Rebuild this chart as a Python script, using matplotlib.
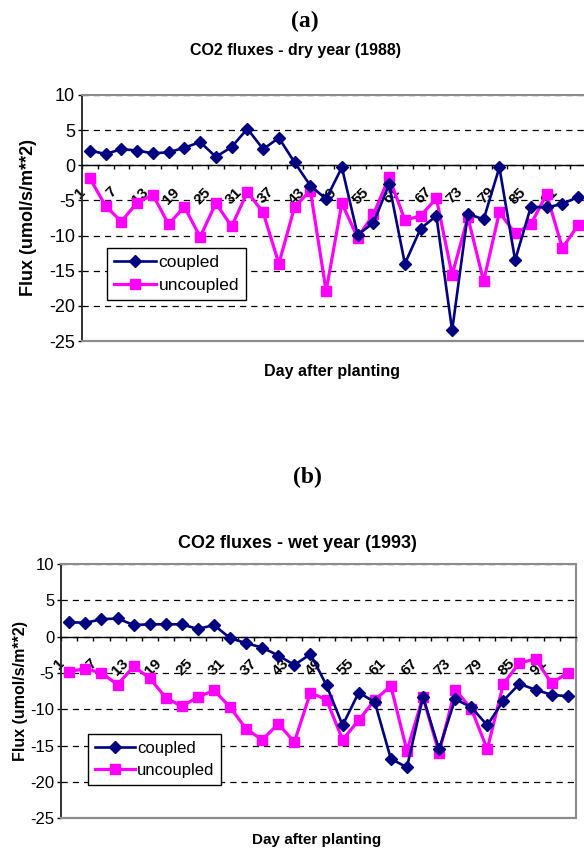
import matplotlib
matplotlib.use('Agg')
import matplotlib.pyplot as plt
from matplotlib.transforms import ScaledTranslation

# ---------------- data ----------------
days = [1, 4, 7, 10, 13, 16, 19, 22, 25, 28, 31, 34, 37, 40, 43, 46,
        49, 52, 55, 58, 61, 64, 67, 70, 73, 76, 79, 82, 85, 88, 91, 94]

dry_coupled = [2.1, 1.6, 2.3, 2.1, 1.7, 1.85, 2.5, 3.3, 1.2, 2.6, 5.2, 2.3,
               3.9, 0.4, -2.9, -4.8, -0.3, -9.9, -8.2, -2.7, -14.0, -9.0,
               -7.2, -23.5, -6.9, -7.7, -0.3, -13.5, -5.9, -6.0, -5.5, -4.5]
dry_uncoupled = [-1.85, -5.8, -8.0, -5.3, -4.2, -8.4, -5.9, -10.2, -5.4, -8.7,
                 -3.8, -6.7, -14.0, -5.9, -3.6, -17.9, -5.4, -10.3, -7.0, -1.7,
                 -7.8, -7.2, -4.7, -15.6, -7.4, -16.5, -6.7, -9.7, -8.4, -4.1,
                 -11.8, -8.5]
wet_coupled = [2.0, 1.9, 2.4, 2.5, 1.6, 1.7, 1.7, 1.7, 1.05, 1.6, -0.2, -0.9,
               -1.5, -2.6, -3.9, -2.4, -6.7, -12.2, -7.7, -9.0, -16.8, -18.0,
               -8.3, -15.5, -8.6, -9.7, -12.2, -8.8, -6.5, -7.3, -8.0, -8.2]
wet_uncoupled = [-4.8, -4.4, -5.0, -6.6, -4.1, -5.7, -8.4, -9.6, -8.3, -7.4,
                 -9.7, -12.7, -14.2, -12.0, -14.5, -7.7, -8.7, -14.2, -11.5,
                 -8.7, -6.8, -15.7, -8.3, -16.0, -7.3, -9.9, -15.5, -6.5, -3.6,
                 -3.1, -6.4, -5.0]

y_ticks = [10, 5, 0, -5, -10, -15, -20, -25]
series_names = ['coupled', 'uncoupled']

NAVY = '#000080'
MAGENTA = '#FF00FF'
SANS = ['Liberation Sans', 'DejaVu Sans']
SERIF = ['Liberation Serif', 'DejaVu Serif']

plt.rcParams['font.family'] = SANS

fig = plt.figure(figsize=(5.84, 8.49), dpi=100)
W, H = 584.0, 849.0


def add_axes_px(left, top, right, bottom):
    return fig.add_axes([left / W, 1 - bottom / H, (right - left) / W, (bottom - top) / H])


def draw_panel(ax, coupled, uncoupled, sizes, leg_anchor, xlabel_pos, ylabel_pos, right_visible):
    x = list(range(len(days)))
    ax.plot(x, coupled, color=NAVY, lw=1.9, marker='D', ms=6.0, mec=NAVY,
            mfc=NAVY, label=series_names[0], zorder=4)
    ax.plot(x, uncoupled, color=MAGENTA, lw=2.3, marker='s', ms=7.2, mec=MAGENTA,
            mfc=MAGENTA, label=series_names[1], zorder=3)

    ax.set_xlim(-0.5, len(days) - 0.5)
    ax.set_ylim(-25, 10)
    ax.set_yticks(y_ticks)
    ax.set_yticklabels([str(v) for v in y_ticks], fontsize=sizes['ytick'])
    ax.tick_params(axis='y', direction='out', length=3, width=1, pad=2, color='black')

    # gridlines
    ax.set_axisbelow(True)
    ax.yaxis.grid(True, color='black', lw=0.9, linestyle=(0, (5, 4)))

    # x axis at zero
    ax.spines['bottom'].set_position(('data', 0))
    ax.spines['bottom'].set_color('black')
    ax.spines['bottom'].set_linewidth(1.0)
    ax.spines['left'].set_color('#202020')
    ax.spines['left'].set_linewidth(1.3)
    ax.spines['top'].set_color('#8c8c8c')
    ax.spines['top'].set_linewidth(1.5)
    ax.spines['right'].set_color('#8c8c8c')
    ax.spines['right'].set_linewidth(1.5)
    ax.spines['right'].set_visible(right_visible)
    ax.axhline(-25, color='#8c8c8c', lw=1.6, clip_on=False, zorder=2.6)

    major = x[::2]
    ax.set_xticks(major)
    ax.set_xticklabels([str(days[i]) for i in major], fontsize=sizes['xtick'],
                       rotation=45, ha='right', va='top', rotation_mode='anchor',
                       fontweight='bold')
    ax.set_xticks([i - 0.5 for i in x] + [len(days) - 0.5], minor=True)
    ax.tick_params(axis='x', which='major', length=0, pad=sizes['xpad'])
    ax.tick_params(axis='x', which='minor', direction='out', length=3, width=1, color='black')
    off = ScaledTranslation(sizes['xshift'] / 100.0, 0, fig.dpi_scale_trans)
    for lab in ax.get_xticklabels():
        lab.set_transform(lab.get_transform() + off)

    ax.set_xlabel('Day after planting', fontsize=sizes['xlabel'], fontweight='bold')
    ax.xaxis.set_label_coords(*xlabel_pos)
    ax.set_ylabel('Flux (umol/s/m**2)', fontsize=sizes['ylabel'], fontweight='bold')
    ax.yaxis.set_label_coords(*ylabel_pos)

    leg = ax.legend(loc='upper left', bbox_to_anchor=leg_anchor, borderaxespad=0,
                    fontsize=sizes['legend'], frameon=True, fancybox=False,
                    edgecolor='black', framealpha=1, handlelength=2.4,
                    handletextpad=0.15, labelspacing=0.45, borderpad=0.4)
    leg.get_frame().set_linewidth(1.0)
    leg.set_zorder(5)


# ---------------- panel (a) ----------------
ax1 = add_axes_px(82, 95, 586, 341)
draw_panel(ax1, dry_coupled, dry_uncoupled,
           dict(ytick=13, xtick=11, xpad=14, xshift=-12, xlabel=11.5, ylabel=13, legend=12.5),
           leg_anchor=(0.05, 0.378), xlabel_pos=(0.496, -0.093),
           ylabel_pos=(-0.089, 0.5), right_visible=False)

# ---------------- panel (b) ----------------
ax2 = add_axes_px(61.3, 564, 575.7, 818.3)
draw_panel(ax2, wet_coupled, wet_uncoupled,
           dict(ytick=12, xtick=11, xpad=14, xshift=-12, xlabel=11, ylabel=11.5, legend=12),
           leg_anchor=(0.052, 0.3315), xlabel_pos=(0.497, -0.056),
           ylabel_pos=(-0.064, 0.5), right_visible=True)

# ---------------- titles ----------------
fig.text(305 / W, 1 - 21 / H, '(a)', ha='center', va='center', fontsize=17,
         fontweight='bold', family=SERIF)
fig.text(295 / W, 1 - 50 / H, 'CO2 fluxes - dry year (1988)', ha='center', va='center',
         fontsize=11.5, fontweight='bold')
fig.text(307 / W, 1 - 477 / H, '(b)', ha='center', va='center', fontsize=17,
         fontweight='bold', family=SERIF)
fig.text(297 / W, 1 - 543 / H, 'CO2 fluxes - wet year (1993)', ha='center', va='center',
         fontsize=13, fontweight='bold')

fig.savefig('out.png', dpi=100, facecolor='white')
